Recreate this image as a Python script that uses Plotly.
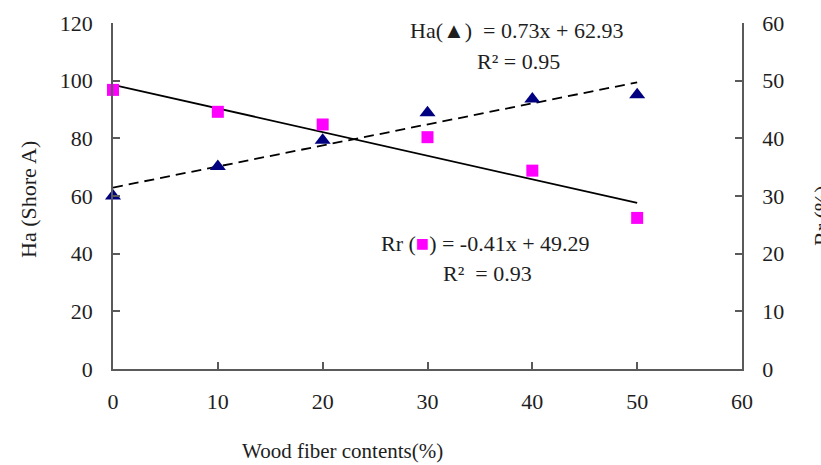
import numpy as np
import plotly.graph_objects as go

# Measured data
fiber = [0, 10, 20, 30, 40, 50]                      # wood fiber content (%)
hardness = [60.0, 70.2, 79.3, 88.9, 93.6, 95.1]      # Ha (Shore A), left axis
rebound = [48.4, 44.6, 42.4, 40.2, 34.4, 26.2]       # Rr (%), right axis

# Linear fits as stated in the equations
ha_slope, ha_intercept = 0.73, 62.93
rr_slope, rr_intercept = -0.41, 49.29
fit_x = np.array([0, 50])

FONT = "Liberation Serif"
TEXT_COLOR = "#1e1e1e"
AXIS_COLOR = "#5a5a5a"

fig = go.Figure()

fig.add_trace(go.Scatter(
    x=fit_x, y=ha_slope * fit_x + ha_intercept, mode="lines",
    line=dict(color="black", width=1.8, dash="10px,6px"),
    yaxis="y", showlegend=False, cliponaxis=False,
))
fig.add_trace(go.Scatter(
    x=fit_x, y=rr_slope * fit_x + rr_intercept, mode="lines",
    line=dict(color="black", width=1.8),
    yaxis="y2", showlegend=False, cliponaxis=False,
))
fig.add_trace(go.Scatter(
    x=fiber, y=hardness, mode="markers",
    marker=dict(symbol="triangle-up", size=14, color="#000080"),
    yaxis="y", showlegend=False, cliponaxis=False,
))
fig.add_trace(go.Scatter(
    x=fiber, y=rebound, mode="markers",
    marker=dict(symbol="square", size=12, color="#ff00ff"),
    yaxis="y2", showlegend=False, cliponaxis=False,
))

axis_common = dict(
    showgrid=False, zeroline=False, showline=True,
    linecolor=AXIS_COLOR, linewidth=1.5,
    ticks="inside", ticklen=7, tickwidth=1.5, tickcolor=AXIS_COLOR,
    tickfont=dict(family=FONT, size=22, color=TEXT_COLOR),
)

fig.update_layout(
    width=821, height=465,
    margin=dict(l=113, r=79, t=23, b=96),
    paper_bgcolor="white", plot_bgcolor="white",
    font=dict(family=FONT, color=TEXT_COLOR),
    xaxis=dict(range=[0, 60], dtick=10, ticklabelstandoff=12, **axis_common),
    yaxis=dict(range=[0, 120], dtick=20, ticklabelstandoff=14, **axis_common),
    yaxis2=dict(range=[0, 60], dtick=10, overlaying="y", side="right",
                ticklabelstandoff=14, **axis_common),
    annotations=[
        dict(text="Wood fiber contents(%)", x=342, y=451,
             font=dict(family=FONT, size=21, color=TEXT_COLOR)),
        dict(text="Ha (Shore A)", x=28, y=200, textangle=-90,
             font=dict(family=FONT, size=22, color=TEXT_COLOR)),
        dict(text="Rr (%)", x=821, y=216, textangle=-90,
             font=dict(family=FONT, size=22, color=TEXT_COLOR)),
        dict(text="Ha(▲)  = 0.73x + 62.93", x=516, y=31,
             font=dict(family=FONT, size=22, color=TEXT_COLOR)),
        dict(text="R² = 0.95", x=518, y=61,
             font=dict(family=FONT, size=22, color=TEXT_COLOR)),
        dict(text='Rr (<span style="color:#ff00ff">■</span>) = -0.41x + 49.29',
             x=485, y=243,
             font=dict(family=FONT, size=22, color=TEXT_COLOR)),
        dict(text="R²  = 0.93", x=487, y=273,
             font=dict(family=FONT, size=22, color=TEXT_COLOR)),
    ],
)

# Position text annotations by page pixel coordinates
W, H = 821, 465
ml, mr, mt, mb = 113, 79, 23, 96
pw, ph = W - ml - mr, H - mt - mb
for ann in fig.layout.annotations:
    px, py = ann.x, ann.y
    ann.showarrow = False
    ann.xref = "paper"
    ann.yref = "paper"
    ann.x = (px - ml) / pw
    ann.y = 1 - (py - mt) / ph
    ann.xanchor = "center"
    ann.yanchor = "middle"

fig.write_html("out.html")
